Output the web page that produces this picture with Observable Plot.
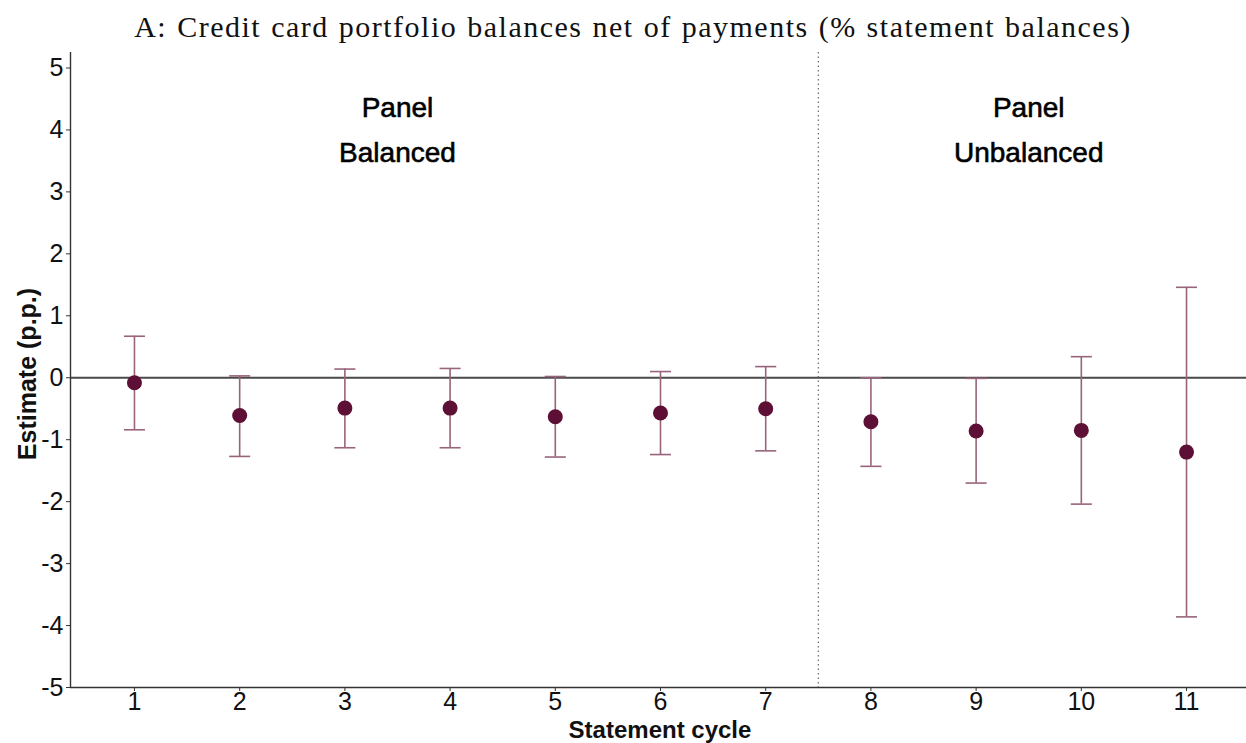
<!DOCTYPE html>
<html>
<head>
<meta charset="utf-8">
<script src="https://cdn.jsdelivr.net/npm/d3@7"></script>
<script src="https://cdn.jsdelivr.net/npm/@observablehq/plot@0.6"></script>
<style>
  html, body { margin: 0; padding: 0; background: #fff; }
  #title { height: 48px; font-family: "Liberation Serif", serif; font-size: 30px; letter-spacing: 1.5px; word-spacing: 1px; color: #111; text-align: center; line-height: 54px; padding-left: 20px; box-sizing: border-box; width: 1246px; white-space: nowrap; overflow: visible; }
  #chart svg { display: block; overflow: visible; }
  #chart svg g[aria-label$="tick label"] text { font-size: 25px; }
</style>
</head>
<body>
<div id="title">A: Credit card portfolio balances net of payments (% statement balances)</div>
<div id="chart"></div>
<script>
const cycles   = [1, 2, 3, 4, 5, 6, 7, 8, 9, 10, 11];
const estimate = [-0.08, -0.61, -0.49, -0.49, -0.63, -0.57, -0.50, -0.71, -0.86, -0.85, -1.20];
const upper    = [0.67, 0.03, 0.14, 0.15, 0.02, 0.10, 0.18, 0.00, -0.01, 0.34, 1.46];
const lower    = [-0.84, -1.27, -1.13, -1.13, -1.28, -1.24, -1.18, -1.43, -1.70, -2.04, -3.86];
const yTicks   = [-5, -4, -3, -2, -1, 0, 1, 2, 3, 4, 5];
const panelLabels = [
  {x: 3.5, y: 4.35, text: "Panel"},
  {x: 3.5, y: 3.62, text: "Balanced"},
  {x: 9.5, y: 4.35, text: "Panel"},
  {x: 9.5, y: 3.62, text: "Unbalanced"}
];
const splitAt = 7.5;

const data = cycles.map((c, i) => ({cycle: c, est: estimate[i], lo: lower[i], hi: upper[i]}));
const capHalf = 0.1;
const barColor = "#98647c";
const dotColor = "#5e0f35";
const fmt = d => String(d);

const plot = Plot.plot({
  width: 1246,
  height: 695,
  marginTop: 4,
  marginLeft: 70,
  marginRight: 0,
  marginBottom: 56,
  style: {fontFamily: "Liberation Sans, Arial, sans-serif", fontSize: "25px", color: "#111", background: "#fff"},
  x: {domain: [0.392, 11.57], label: null},
  y: {domain: [-5, 5.25], label: null},
  marks: [
    Plot.ruleY([0], {stroke: "#4a4a4a", strokeWidth: 1.8}),
    Plot.ruleX([splitAt], {stroke: "#666", strokeWidth: 1.2, strokeDasharray: "1.5,3"}),
    Plot.ruleX(data, {x: "cycle", y1: "lo", y2: "hi", stroke: barColor, strokeWidth: 1.6}),
    Plot.link(data, {x1: d => d.cycle - capHalf, x2: d => d.cycle + capHalf, y1: "hi", y2: "hi", stroke: barColor, strokeWidth: 1.6}),
    Plot.link(data, {x1: d => d.cycle - capHalf, x2: d => d.cycle + capHalf, y1: "lo", y2: "lo", stroke: barColor, strokeWidth: 1.6}),
    Plot.dot(data, {x: "cycle", y: "est", r: 7.5, fill: dotColor, stroke: "none"}),
    Plot.text(panelLabels, {x: "x", y: "y", text: "text", fontSize: 28, fill: "#000", stroke: "#000", strokeWidth: 0.6}),
    Plot.axisY({ticks: yTicks, tickFormat: fmt, tickSize: 4, tickPadding: 3, fontSize: 25, stroke: "#333", fill: "#111", label: null}),
    Plot.axisX({ticks: cycles, tickFormat: fmt, tickSize: 4, tickPadding: 1, fontSize: 25, stroke: "#333", fill: "#111", label: null}),
    Plot.ruleX([0.392], {stroke: "#333", strokeWidth: 1.4}),
    Plot.ruleY([-5], {stroke: "#333", strokeWidth: 1.4})
  ]
});

const svg = d3.select(plot);
svg.selectAll('g[aria-label$="tick label"]').attr("font-size", 25);
svg.append("text")
  .attr("x", 660).attr("y", 689.5)
  .attr("text-anchor", "middle")
  .attr("font-family", "Liberation Sans, Arial, sans-serif")
  .attr("font-weight", "bold").attr("font-size", 24).attr("fill", "#111")
  .text("Statement cycle");
svg.append("text")
  .attr("transform", "translate(36,326) rotate(-90)")
  .attr("text-anchor", "middle")
  .attr("font-family", "Liberation Sans, Arial, sans-serif")
  .attr("font-weight", "bold").attr("font-size", 25).attr("fill", "#111")
  .text("Estimate (p.p.)");

document.getElementById("chart").appendChild(plot);
</script>
</body>
</html>
